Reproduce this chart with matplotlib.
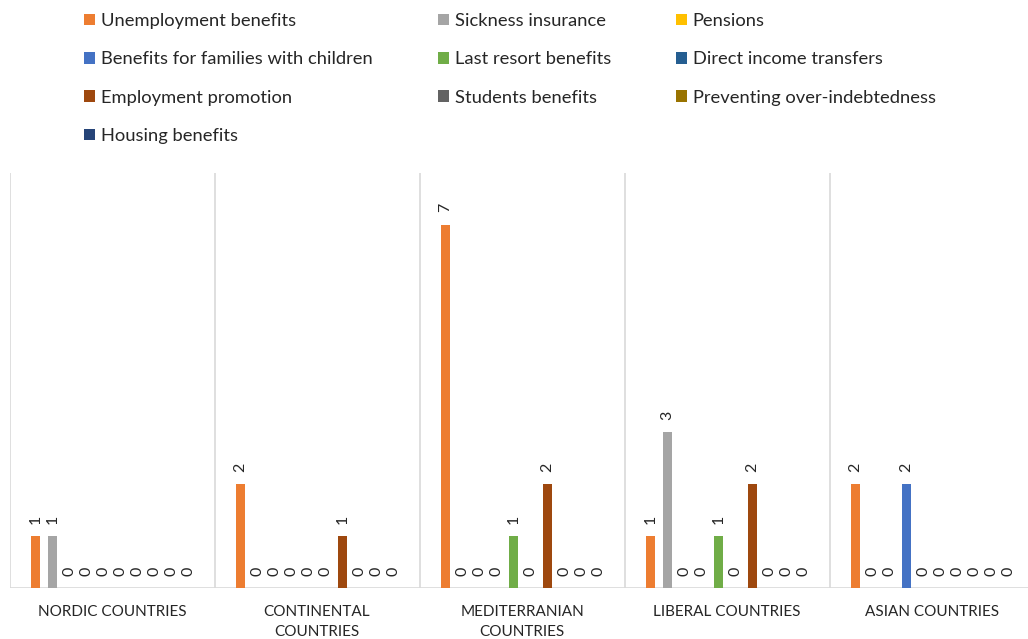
import numpy as np
import matplotlib.pyplot as plt
from matplotlib.patches import Patch

plt.rcParams['font.family'] = ['Lato', 'DejaVu Sans']

# 国家组与各类福利措施数量
groups = ['NORDIC COUNTRIES', 'CONTINENTAL\nCOUNTRIES', 'MEDITERRANIAN\nCOUNTRIES',
          'LIBERAL COUNTRIES', 'ASIAN COUNTRIES']
series = ['Unemployment benefits', 'Sickness insurance', 'Pensions',
          'Benefits for families with children', 'Last resort benefits',
          'Direct income transfers', 'Employment promotion', 'Students benefits',
          'Preventing over-indebtedness', 'Housing benefits']
colors = ['#ED7D31', '#A5A5A5', '#FFC000', '#4472C4', '#70AD47',
          '#255E91', '#9E480E', '#636363', '#997300', '#264478']

unemployment = [1, 2, 7, 1, 2]
sickness = [1, 0, 0, 3, 0]
pensions = [0, 0, 0, 0, 0]
families = [0, 0, 0, 0, 2]
last_resort = [0, 0, 1, 1, 0]
direct_income = [0, 0, 0, 0, 0]
employment = [0, 1, 2, 2, 0]
students = [0, 0, 0, 0, 0]
indebtedness = [0, 0, 0, 0, 0]
housing = [0, 0, 0, 0, 0]
values = [unemployment, sickness, pensions, families, last_resort,
          direct_income, employment, students, indebtedness, housing]

text_color = '#262626'
grid_color = '#D9D9D9'

fig = plt.figure(figsize=(10.28, 6.39), dpi=100)
ax = fig.add_axes([9.5 / 1028, 51 / 639, 1025 / 1028, 415 / 639])

x = np.arange(len(groups))
slot = 17 / 205
width = 9 / 205
for i, (name, vals, c) in enumerate(zip(series, values, colors)):
    pos = x + (i - 4.5) * slot
    bars = ax.bar(pos, vals, width=width, color=c, label=name, zorder=3)
    for b, v in zip(bars, vals):
        ax.annotate(str(v), (b.get_x() + b.get_width() / 2, v),
                    xytext=(0, 9), textcoords='offset points',
                    ha='center', va='bottom', rotation=90,
                    fontsize=11.5, color=text_color)

ax.set_xlim(-0.5, 4.5)
ax.set_ylim(0, 8)
for xv in np.arange(-0.5, 5, 1):
    ax.axvline(xv, color=grid_color, lw=1.2, zorder=1)
ax.axhline(0, color=grid_color, lw=1.2, zorder=2)

for s in ax.spines.values():
    s.set_visible(False)
ax.set_yticks([])
ax.set_xticks(x)
ax.set_xticklabels(groups, fontsize=11, color=text_color, linespacing=1.6)
ax.tick_params(axis='x', length=0, pad=12)

# 图例按行排列，matplotlib 按列填充，故重新排序
order = [0, 3, 6, 9, 1, 4, 7, 2, 5, 8]
handles = [Patch(facecolor=colors[k], edgecolor='none') for k in order]
labels = [series[k] for k in order]
fig.legend(handles, labels, ncol=3, loc='upper left',
           bbox_to_anchor=(84 / 1028, 1 - 13 / 639), frameon=False,
           borderaxespad=0, borderpad=0,
           fontsize=13.2, handlelength=0.6, handleheight=0.6,
           handletextpad=0.32, columnspacing=3.55, labelspacing=1.22,
           labelcolor=text_color)

fig.savefig('out.png', dpi=100)
